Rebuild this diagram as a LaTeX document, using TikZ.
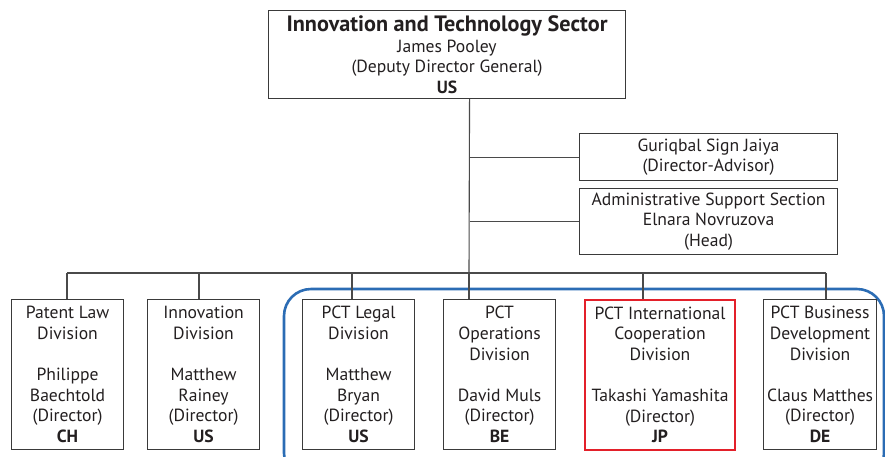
\documentclass[tikz,border=0pt]{standalone}
\usepackage{fontspec}
\setmainfont{PT Sans}
\definecolor{ink}{HTML}{231F20}
\definecolor{frame}{HTML}{3A3A3A}
\definecolor{wire}{HTML}{4A4A4A}
\definecolor{pctblue}{HTML}{2B6CB4}
\definecolor{hilite}{HTML}{E3202A}
\begin{document}
\begin{tikzpicture}[x=1pt,y=-1pt,
  box/.style={draw=frame, line width=1.1pt, anchor=north west, inner sep=0pt,
    align=center, text=ink, font=\fontsize{17.6}{20.6}\selectfont},
  wirestyle/.style={draw=wire, line width=1.1pt},
  group/.style={draw=pctblue, line width=2.6pt, rounded corners=27pt}]
\useasboundingbox (0,0) rectangle (885,456);

% PCT group outline (open at the bottom edge of the page)
\draw[group] (284,289) rectangle (884,480);

% Sector head
\node[box, minimum width=357pt, minimum height=88pt] (top) at (268,10)
  {{\fontsize{22.2}{24}\selectfont\bfseries Innovation and Technology Sector}\\
   James Pooley\\(Deputy Director General)\\\textbf{US}};

% Staff units on the right
\node[box, minimum width=258pt, minimum height=47pt] (adv) at (579,133)
  {Guriqbal Sign Jaiya\\(Director-Advisor)};
\node[box, minimum width=258pt, minimum height=66pt] (adm) at (579,188)
  {Administrative Support Section\\Elnara Novruzova\\(Head)};

% Divisions
\node[box, minimum width=112pt, minimum height=150pt] (d1) at (11,299)
  {Patent Law\\Division\\~\\Philippe\\Baechtold\\(Director)\\\textbf{CH}};
\node[box, minimum width=112pt, minimum height=150pt] (d2) at (147,299)
  {Innovation\\Division\\~\\Matthew\\Rainey\\(Director)\\\textbf{US}};
\node[box, minimum width=112pt, minimum height=150pt] (d3) at (302,299)
  {PCT Legal\\Division\\~\\Matthew\\Bryan\\(Director)\\\textbf{US}};
\node[box, minimum width=112pt, minimum height=150pt] (d4) at (443,299)
  {PCT\\Operations\\Division\\~\\David Muls\\(Director)\\\textbf{BE}};
\node[box, draw=hilite, line width=2pt, minimum width=150pt, minimum height=150pt] (d5) at (584,299)
  {PCT International\\Cooperation\\Division\\~\\Takashi Yamashita\\(Director)\\\textbf{JP}};
\node[box, minimum width=113pt, minimum height=150pt] (d6) at (763,299)
  {PCT Business\\Development\\Division\\~\\Claus Matthes\\(Director)\\\textbf{DE}};

% Reporting lines
\coordinate (spine) at ([xshift=22.5pt]top.south);
\coordinate (t1) at (67,273);
\coordinate (t2) at (199,273);
\coordinate (t3) at (352,273);
\coordinate (t4) at (469,273);
\coordinate (t5) at (643,273);
\coordinate (t6) at (826,273);

\draw[wirestyle] (spine) -- (t4);
\draw[wirestyle] (spine |- adv.west) -- (adv.west);
\draw[wirestyle] (spine |- adm.west) -- (adm.west);
\draw[wirestyle] (t1) -- (t6);
\foreach \i in {1,...,6}
  \draw[wirestyle] (t\i) -- (t\i |- d\i.north);
\end{tikzpicture}
\end{document}
